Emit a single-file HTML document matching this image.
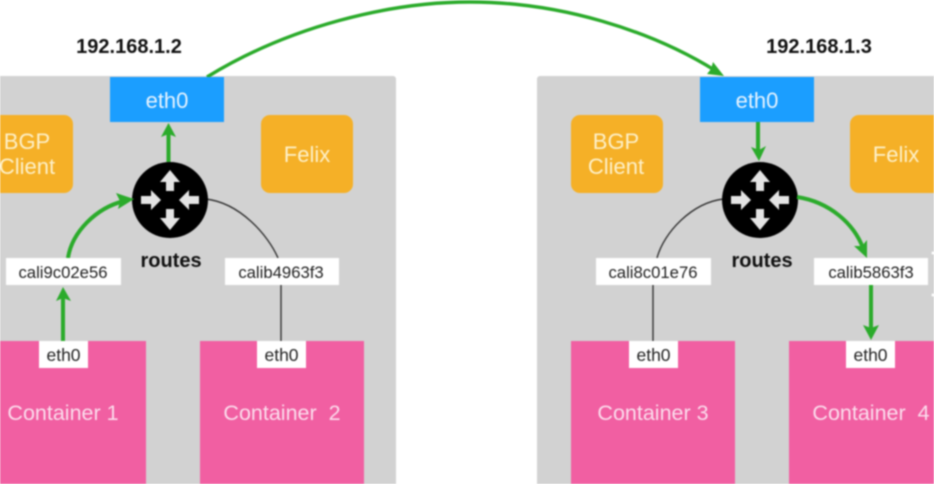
<!DOCTYPE html>
<html>
<head>
<meta charset="utf-8">
<style>
html,body{margin:0;padding:0;background:#fff;width:934px;height:484px;overflow:hidden}
svg{display:block;filter:blur(0.8px)}
text{font-family:"Liberation Sans",sans-serif;text-anchor:middle}
.o{font-size:22px;fill:#fdf0c8}
.b{font-size:22px;fill:#e6f3ff}
.c{font-size:21.5px;fill:#fbdcec}
.l{font-size:16.7px;fill:#222}
.e{font-size:17.5px;fill:#222}
.h{font-size:20px;font-weight:bold;fill:#111}
.g{fill:none;stroke:#2bab2b;stroke-width:4}
.k{fill:none;stroke:#333;stroke-width:1.4}
.a{fill:#2bab2b}
</style>
</head>
<body>
<svg width="934" height="484" viewBox="0 0 934 484" xmlns="http://www.w3.org/2000/svg">
<defs>
<g id="router">
<circle r="38" fill="#000"/>
<g fill="#e4e4e4">
<polygon points="0,-30 10,-18 4,-18 4,-9 -4,-9 -4,-18 -10,-18"/>
<polygon points="0,30 10,18 4,18 4,9 -4,9 -4,18 -10,18"/>
<polygon points="-9,0 -19,-10 -19,-4 -29,-4 -29,4 -19,4 -19,10"/>
<polygon points="9,0 19,-10 19,-4 29,-4 29,4 19,4 19,10"/>
</g>
</g>
</defs>
<rect width="934" height="484" fill="#fff"/>
<!-- gray hosts -->
<rect x="-20" y="76" width="416" height="430" rx="3" fill="#d2d2d2"/>
<rect x="537" y="76" width="430" height="430" rx="3" fill="#d2d2d2"/>
<!-- big arc -->
<path class="g" style="stroke-width:3.4" d="M207 77 C290 26 390 2 470 2 C560 2 650 30 716 71"/>
<polygon class="a" points="724,76 707,74 711,69 713,62"/>
<!-- IP labels -->
<text class="h" x="129" y="53">192.168.1.2</text>
<text class="h" x="819" y="53">192.168.1.3</text>
<!-- eth0 blue -->
<rect x="110" y="77" width="114" height="45" fill="#1b9eff"/>
<rect x="700" y="77" width="114" height="45" fill="#1b9eff"/>
<text class="b" x="167" y="108">eth0</text>
<text class="b" x="757" y="108">eth0</text>
<!-- orange -->
<rect x="-19" y="115" width="92" height="78" rx="9" fill="#f5b027"/>
<rect x="261" y="115" width="92" height="78" rx="9" fill="#f5b027"/>
<rect x="571" y="115" width="92" height="78" rx="9" fill="#f5b027"/>
<rect x="850" y="115" width="92" height="78" rx="9" fill="#f5b027"/>
<text class="o" x="27" y="149">BGP</text>
<text class="o" x="27" y="174">Client</text>
<text class="o" x="307" y="162">Felix</text>
<text class="o" x="616" y="149">BGP</text>
<text class="o" x="616" y="174">Client</text>
<text class="o" x="896" y="162">Felix</text>
<!-- black connectors -->
<path class="k" d="M206 199 C240 203 268 235 278 258"/>
<path class="k" d="M281 285 V341"/>
<path class="k" d="M723 199 C692 203 664 232 657 258"/>
<path class="k" d="M653 285 V341"/>
<!-- routers -->
<use href="#router" x="170" y="200"/>
<use href="#router" x="760" y="200"/>
<text class="h" x="171" y="267">routes</text>
<text class="h" x="762" y="267">routes</text>
<!-- green connectors -->
<path class="g" d="M168.500 162 V132"/>
<polygon class="a" points="168.500,123 176,137 168.500,134 161,137"/>
<path class="g" d="M758 122 V152"/>
<polygon class="a" points="759,161 751,147 759,150 766,146"/>
<path class="g" d="M68 258 C72 232 96 208 124 201"/>
<polygon class="a" points="134,199 118,209 120,201 116,193"/>
<path class="g" d="M797 197 C830 202 854 224 863 248"/>
<polygon class="a" points="867,258 854,246 862,246 867,240"/>
<path class="g" d="M63 341 V297"/>
<polygon class="a" points="63,287 71,301 63,298 56,301"/>
<path class="g" d="M871 285 V330"/>
<polygon class="a" points="871,340 863,325 871,328 879,325"/>
<!-- labels -->
<rect x="6" y="258" width="115" height="27" fill="#fff"/>
<rect x="225" y="258" width="114" height="27" fill="#fff"/>
<rect x="596" y="258" width="115" height="27" fill="#fff"/>
<rect x="814" y="258" width="114" height="27" fill="#fff"/>
<text class="l" x="63" y="278">cali9c02e56</text>
<text class="l" x="281" y="278">calib4963f3</text>
<text class="l" x="653" y="278">cali8c01e76</text>
<text class="l" x="871" y="278">calib5863f3</text>
<!-- containers -->
<rect x="-18" y="341" width="164" height="150" fill="#f15fa2"/>
<rect x="200" y="341" width="164" height="150" fill="#f15fa2"/>
<rect x="571" y="341" width="164" height="150" fill="#f15fa2"/>
<rect x="789" y="341" width="164" height="150" fill="#f15fa2"/>
<rect x="39" y="341" width="49" height="27" fill="#fff"/>
<rect x="257" y="341" width="49" height="27" fill="#fff"/>
<rect x="629" y="341" width="49" height="27" fill="#fff"/>
<rect x="846" y="341" width="49" height="27" fill="#fff"/>
<text class="e" x="63.500" y="361">eth0</text>
<text class="e" x="281.500" y="361">eth0</text>
<text class="e" x="653.500" y="361">eth0</text>
<text class="e" x="870.500" y="361">eth0</text>
<text class="c" x="63" y="420">Container 1</text>
<text class="c" x="282" y="420" xml:space="preserve">Container  2</text>
<text class="c" x="653" y="420">Container 3</text>
<text class="c" x="871" y="420" xml:space="preserve">Container  4</text>
<!-- edge dots -->
<circle cx="933" cy="253" r="1.500" fill="#fff"/>
<circle cx="933" cy="295" r="1.500" fill="#fff"/>
</svg>
</body>
</html>
